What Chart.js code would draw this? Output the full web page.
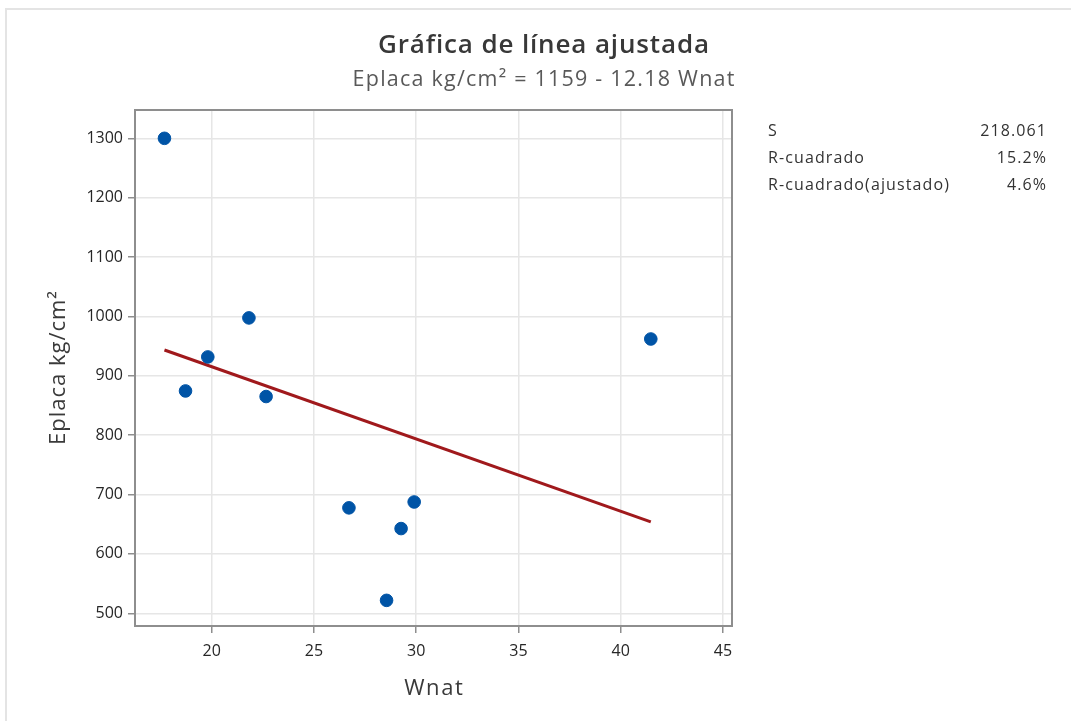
<!DOCTYPE html>
<html>
<head>
<meta charset="utf-8">
<script src="https://cdn.jsdelivr.net/npm/chart.js@4"></script>
<style>
  html, body { margin: 0; padding: 0; background: #fff; }
  #wrap { position: relative; width: 1071px; height: 721px; }
  #frame { position: absolute; left: 5px; top: 8px; right: 0; bottom: 0; border-top: 2px solid #e4e4e4; border-left: 2px solid #e4e4e4; pointer-events: none; }
  canvas { position: absolute; left: 0; top: 0; }
</style>
</head>
<body>
<div id="wrap">
  <canvas id="c" width="1071" height="721"></canvas>
  <div id="frame"></div>
</div>
<script>
// ---- data ----
const wnat   = [17.69, 18.72, 19.81, 21.82, 22.66, 26.71, 28.55, 29.26, 29.90, 41.47];
const eplaca = [1300, 874.5, 931.8, 997.5, 865.1, 677.6, 521.8, 642.7, 687.5, 962];
const fitX   = [17.69, 41.47];
const fitY   = [943.5, 653.9];
const xTicks = [20, 25, 30, 35, 40, 45];
const yTicks = [500, 600, 700, 800, 900, 1000, 1100, 1200, 1300];
const statLabels = ['S', 'R-cuadrado', 'R-cuadrado(ajustado)'];
const statValues = ['218.061', '15.2%', '4.6%'];
const titleText = 'Gráfica de línea ajustada';
const subtitleText = 'Eplaca kg/cm² = 1159 - 12.18 Wnat';
const xTitle = 'Wnat';
const yTitle = 'Eplaca kg/cm²';

const FONT = "'Open Sans', 'Noto Sans', sans-serif";

// draw text with letter spacing so that it spans a target width
function fitText(ctx, text, x, y, align, target) {
  ctx.letterSpacing = '0px';
  const w = ctx.measureText(text).width;
  const n = [...text].length;
  const sp = Math.max(0, (target - w) / n);
  ctx.letterSpacing = sp + 'px';
  const total = w + sp * n;
  let sx = x;
  if (align === 'center') sx = x - (total - sp) / 2;
  else if (align === 'right') sx = x - (total - sp);
  ctx.textAlign = 'left';
  ctx.fillText(text, sx, y);
  ctx.letterSpacing = '0px';
}

const textPlugin = {
  id: 'frameAndText',
  beforeDatasetsDraw(chart) {
    const a = chart.chartArea, ctx = chart.ctx;
    ctx.save();
    ctx.strokeStyle = '#8e8e8e';
    ctx.lineWidth = 2;
    ctx.strokeRect(a.left, a.top, a.right - a.left, a.bottom - a.top);
    ctx.restore();
  },
  afterDraw(chart) {
    const ctx = chart.ctx, a = chart.chartArea;
    ctx.save();
    ctx.textBaseline = 'middle';
    // title
    ctx.fillStyle = '#383838';
    ctx.font = '600 26px ' + FONT;
    fitText(ctx, titleText, 543.5, 46, 'center', 332);
    // subtitle
    ctx.fillStyle = '#595959';
    ctx.font = '400 21.5px ' + FONT;
    fitText(ctx, subtitleText, 543.5, 80, 'center', 383);
    // stats panel
    ctx.fillStyle = '#333333';
    ctx.font = '400 16px ' + FONT;
    const y0 = 131, dy = 27;
    ctx.letterSpacing = '0px';
    const ref = ctx.measureText(statLabels[2]).width;
    const sp = Math.max(0, (182 - ref) / [...statLabels[2]].length);
    ctx.letterSpacing = sp + 'px';
    statLabels.forEach((l, i) => {
      ctx.textAlign = 'left';
      ctx.fillText(l, 768, y0 + i * dy);
      const vw = ctx.measureText(statValues[i]).width - sp;
      ctx.fillText(statValues[i], 1046 - vw, y0 + i * dy);
    });
    ctx.letterSpacing = '0px';
    // axis titles
    ctx.fillStyle = '#3a3a3a';
    ctx.font = '400 22px ' + FONT;
    fitText(ctx, xTitle, (a.left + a.right) / 2, 689, 'center', 60);
    ctx.save();
    ctx.translate(59, (a.top + a.bottom) / 2);
    ctx.rotate(-Math.PI / 2);
    fitText(ctx, yTitle, 0, 0, 'center', 155);
    ctx.restore();
    ctx.restore();
  }
};

new Chart(document.getElementById('c'), {
  type: 'scatter',
  data: {
    datasets: [
      {
        type: 'line',
        data: fitX.map((x, i) => ({ x, y: fitY[i] })),
        borderColor: '#a0191c',
        borderWidth: 3,
        pointRadius: 0,
        fill: false,
        order: 2
      },
      {
        data: wnat.map((x, i) => ({ x, y: eplaca[i] })),
        backgroundColor: '#0054a6',
        borderColor: '#0054a6',
        pointRadius: 6.3,
        pointHoverRadius: 6.3,
        order: 1
      }
    ]
  },
  options: {
    responsive: false,
    animation: false,
    events: [],
    layout: { padding: { left: 16, right: 339, top: 110, bottom: 0 } },
    plugins: {
      legend: { display: false },
      tooltip: { enabled: false },
      title: { display: false },
      subtitle: { display: false }
    },
    scales: {
      x: {
        type: 'linear',
        min: 16.25,
        max: 45.44,
        afterBuildTicks(s) { s.ticks = xTicks.map(v => ({ value: v })); },
        afterFit(s) { s.height = 95; },
        grid: { color: '#e6e6e6', lineWidth: 1.5, tickLength: 7, tickColor: '#8e8e8e', tickWidth: 1.5 },
        border: { display: false },
        ticks: { color: '#262626', font: { family: FONT, size: 16 }, padding: 9, maxRotation: 0, callback: v => String(v) },
        title: { display: false }
      },
      y: {
        type: 'linear',
        min: 478.6,
        max: 1347.7,
        afterBuildTicks(s) { s.ticks = yTicks.map(v => ({ value: v })); },
        afterFit(s) { s.width = 119; },
        grid: { color: '#e6e6e6', lineWidth: 1.5, tickLength: 7, tickColor: '#8e8e8e', tickWidth: 1.5 },
        border: { display: false },
        ticks: { color: '#262626', font: { family: FONT, size: 16 }, padding: 5, callback: v => String(v) },
        title: { display: false }
      }
    }
  },
  plugins: [textPlugin]
});
</script>
</body>
</html>
